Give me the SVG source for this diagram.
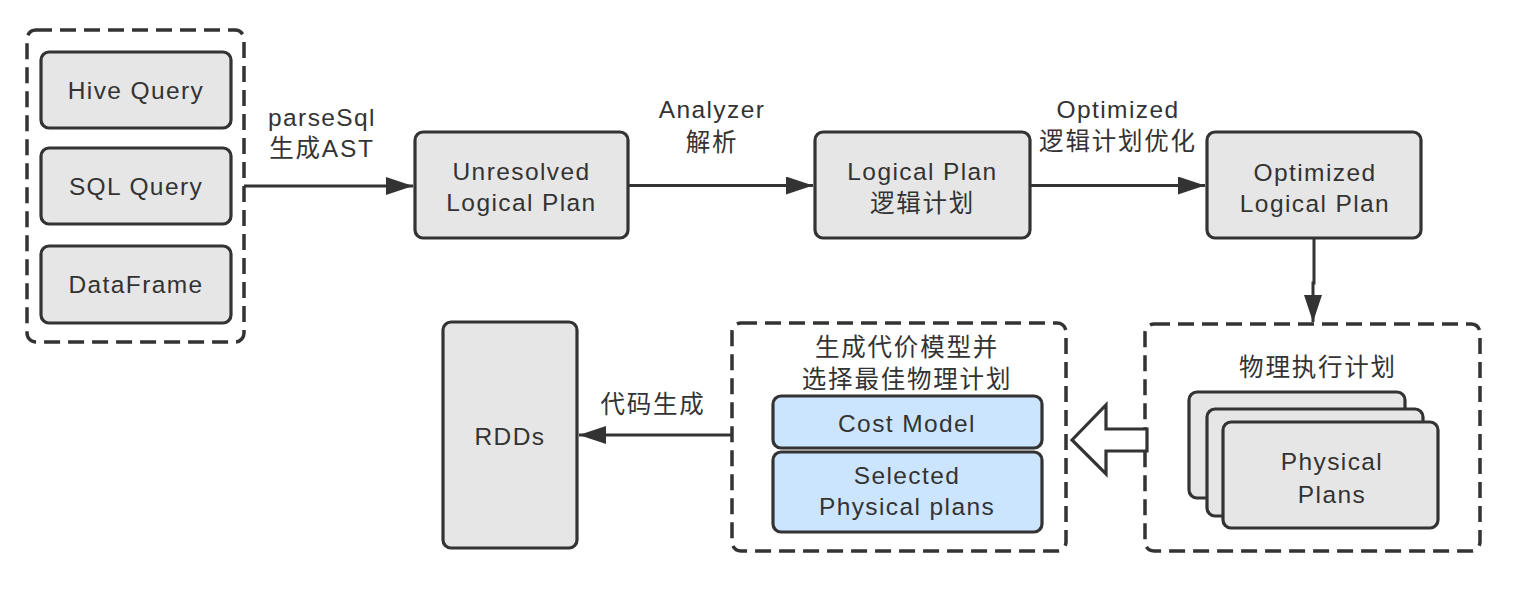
<svg xmlns="http://www.w3.org/2000/svg" width="1528" height="602" viewBox="0 0 1528 602">
<style>
text{font-family:"Liberation Sans","Noto Sans CJK SC",sans-serif;font-size:24.5px;fill:#333;text-anchor:middle;letter-spacing:1.4px}
text.cjk{letter-spacing:1.8px}
.box{fill:#e6e6e6;stroke:#333;stroke-width:3.2}
.blue{fill:#cce5ff;stroke:#333;stroke-width:3.2}
.dash{fill:none;stroke:#333;stroke-width:3.5;stroke-dasharray:16 8}
.conn{fill:none;stroke:#333;stroke-width:3}
</style>
<defs>
<marker id="ah" markerUnits="userSpaceOnUse" markerWidth="28" markerHeight="20" refX="27" refY="9" orient="auto">
<path d="M0,0 L27,9 L0,18 z" fill="#333"/>
</marker>
</defs>
<rect width="1528" height="602" fill="#fff"/>

<g id="inputs">
<rect class="dash" x="27" y="30" width="217" height="312" rx="9"/>
</g>
<g id="hive"><rect class="box" x="41" y="52" width="190" height="76" rx="8"/><text x="136" y="99">Hive Query</text></g>
<g id="sql"><rect class="box" x="41" y="148" width="190" height="76" rx="8"/><text x="136" y="195">SQL Query</text></g>
<g id="dataframe"><rect class="box" x="41" y="246" width="190" height="77" rx="8"/><text x="136" y="293">DataFrame</text></g>

<g id="unresolved"><rect class="box" x="415" y="132" width="213" height="106" rx="8"/><text x="521.5" y="180">Unresolved</text><text x="521.5" y="211">Logical Plan</text></g>
<g id="logical"><rect class="box" x="815" y="132" width="215" height="106" rx="8"/><text x="922.5" y="180">Logical Plan</text><text class="cjk" x="922.5" y="212">逻辑计划</text></g>
<g id="optimized"><rect class="box" x="1207" y="132" width="214" height="106" rx="8"/><text x="1315" y="181">Optimized</text><text x="1315" y="212">Logical Plan</text></g>

<g id="physical">
<rect class="dash" x="1145" y="324" width="335" height="227" rx="9"/>
<text class="cjk" x="1318" y="376">物理执行计划</text>
<rect class="box" x="1189" y="392" width="216" height="106" rx="8"/>
<rect class="box" x="1207" y="409" width="216" height="107" rx="8"/>
<rect class="box" x="1223" y="422" width="215" height="106" rx="8"/>
<text x="1332" y="470">Physical</text><text x="1332" y="503">Plans</text>
</g>

<g id="costmodel">
<rect class="dash" x="732" y="323" width="334" height="228" rx="9"/>
<text class="cjk" x="907" y="356">生成代价模型并</text>
<text class="cjk" x="907" y="388">选择最佳物理计划</text>
<rect class="blue" x="773" y="396" width="269" height="52" rx="8"/>
<text x="907" y="432">Cost Model</text>
<rect class="blue" x="773" y="452" width="269" height="80" rx="8"/>
<text x="907" y="484">Selected</text>
<text x="907" y="515">Physical plans</text>
</g>

<g id="rdds"><rect class="box" x="443" y="322" width="134" height="226" rx="8"/><text x="510" y="445">RDDs</text></g>

<g id="connectors">
<line class="conn" x1="244" y1="186" x2="413" y2="186" marker-end="url(#ah)"/>
<text x="322" y="126">parseSql</text>
<text class="cjk" x="322" y="157">生成AST</text>
<line class="conn" x1="628" y1="185.5" x2="813" y2="185.5" marker-end="url(#ah)"/>
<text x="712" y="118">Analyzer</text>
<text class="cjk" x="712" y="151">解析</text>
<line class="conn" x1="1030" y1="185.5" x2="1205" y2="185.5" marker-end="url(#ah)"/>
<text x="1118" y="118">Optimized</text>
<text class="cjk" x="1118" y="150">逻辑计划优化</text>
<path class="conn" d="M1314,238 L1314,283 L1313,283 L1313,322" marker-end="url(#ah)"/>
<polygon points="1072,440 1106,405 1106,429 1147,429 1147,451 1106,451 1106,474" fill="#fff" stroke="#333" stroke-width="3.2" stroke-linejoin="miter"/>
<line class="conn" x1="732" y1="435" x2="579" y2="435" marker-end="url(#ah)"/>
<text class="cjk" x="653" y="413">代码生成</text>
</g>
</svg>
